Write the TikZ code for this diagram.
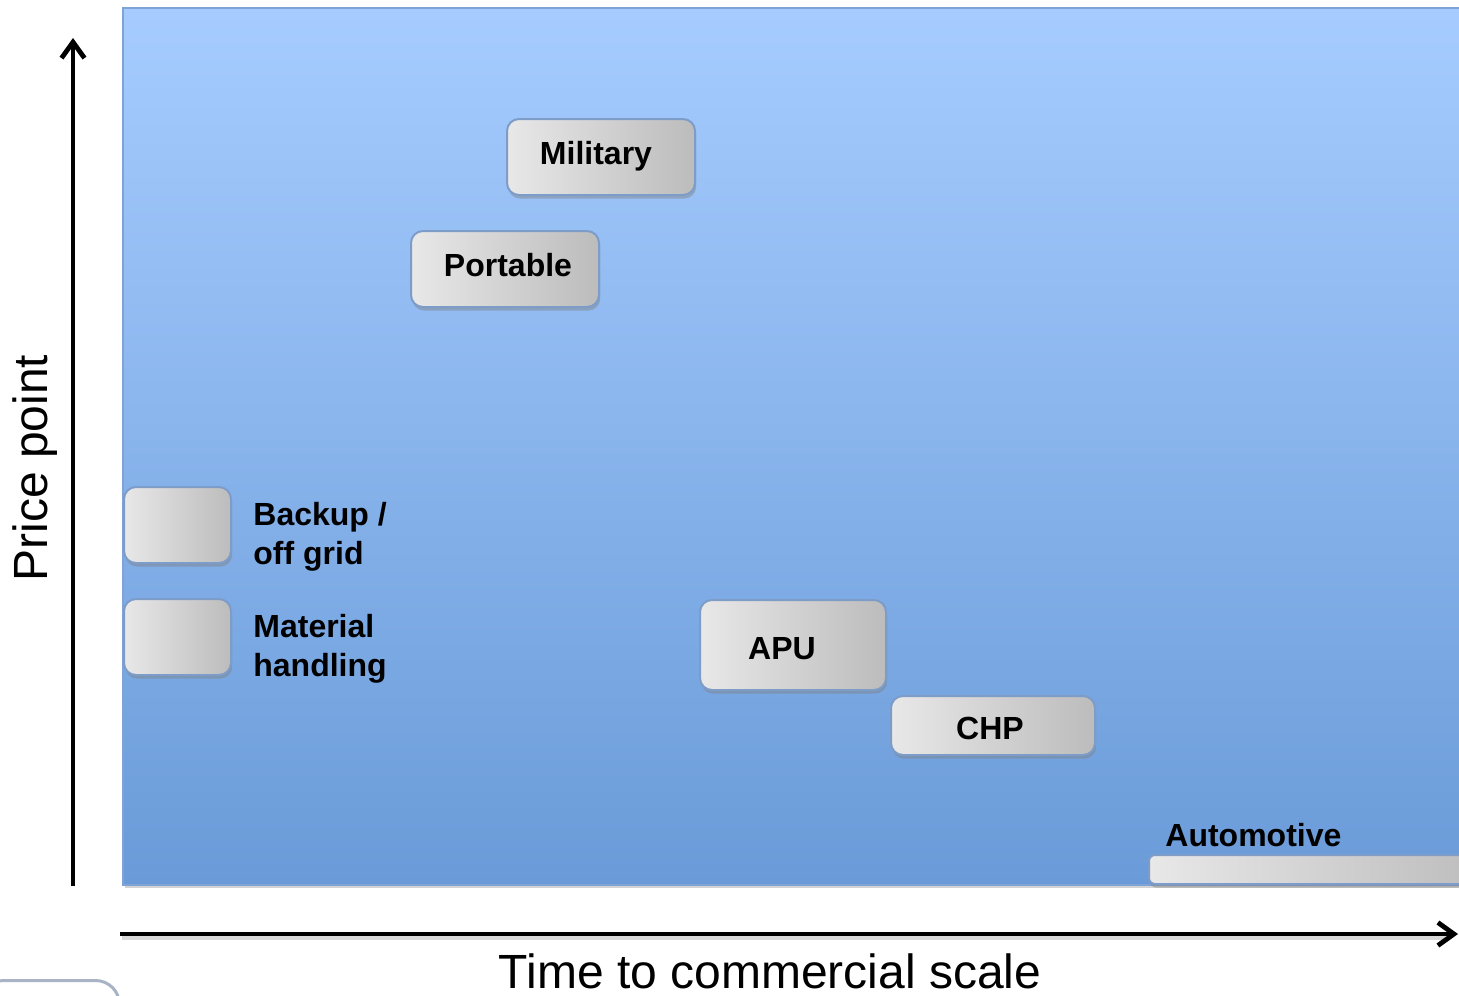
\documentclass[tikz,border=0pt]{standalone}
\usepackage{fontspec}
\setmainfont{Liberation Sans}
\usetikzlibrary{shadows,arrows.meta}
\definecolor{skytop}{HTML}{A6CCFF}
\definecolor{skybot}{HTML}{6A9BD8}
\definecolor{skyedge}{HTML}{7FA3D6}
\definecolor{boxedge}{HTML}{7E9CC8}
\definecolor{boxlight}{HTML}{E8E8E8}
\definecolor{boxdark}{HTML}{BCBCBC}
\definecolor{stubedge}{HTML}{A8B4C6}
\tikzset{
  panel/.style={draw=skyedge, line width=1pt, top color=skytop, bottom color=skybot,
    drop shadow={shadow xshift=0.8pt, shadow yshift=-1.5pt, opacity=0.35}},
  segment/.style={draw=boxedge, line width=1pt, rounded corners=6pt,
    left color=boxlight, right color=boxdark, inner sep=0pt,
    drop shadow={shadow xshift=0.6pt, shadow yshift=-1.8pt, opacity=0.45}},
  boxtext/.style={inner sep=0pt, font=\fontsize{16}{19.5}\selectfont\bfseries},
  sidelabel/.style={anchor=west, align=left, inner sep=0pt,
    font=\fontsize{16}{19.5}\selectfont\bfseries},
  axisline/.style={line width=2.2pt, -{Straight Barb[length=8pt,width=11.5pt,line width=2.4pt]}},
  axisshade/.style={line width=2.2pt, black!25, opacity=0.6},
  axistitle/.style={font=\fontsize{24}{28}\selectfont, inner sep=0pt}
}
\begin{document}
\begin{tikzpicture}[x=0.5pt,y=-0.5pt]
\useasboundingbox (0,0) rectangle (1459,995);

% chart area
\node[panel, minimum width=680pt, minimum height=438.5pt, inner sep=0pt, anchor=north west]
  (area) at (122,7) {};

% market segments
\node[segment, minimum width=94pt, minimum height=38pt] (mil) at (601,157) {};
\node[segment, minimum width=94pt, minimum height=38pt] (port) at (505,269) {};
\node[segment, minimum width=53.5pt, minimum height=38pt] (backup) at (177.5,525) {};
\node[segment, minimum width=53.5pt, minimum height=38pt] (mat) at (177.5,637) {};
\node[segment, minimum width=93pt, minimum height=45pt] (apu) at (793,645) {};
\node[segment, minimum width=102pt, minimum height=29.5pt] (chp) at (993,725.5) {};
\node[segment, rounded corners=3pt, minimum width=170pt, minimum height=14.5pt, anchor=west]
  (auto) at (1148,869.5) {};

% segment names
\node[boxtext] (miltxt) at (596,156) {Military};
\node[boxtext] (porttxt) at (508,265) {Portable};
\node[boxtext] (aputxt) at (782,649) {APU};
\node[boxtext] (chptxt) at (990,728.5) {CHP};

% labels beside the boxes
\node[sidelabel] (backuplbl) at (253,537) {Backup /\\off grid};
\node[sidelabel] (matlbl) at (253,649) {Material\\handling};
\node[sidelabel] (autolbl) at (1165,835) {Automotive};

% axes
\coordinate (yfoot) at (73,886);
\coordinate (ytip) at (73,38);
\coordinate (xfoot) at (120,934);
\coordinate (xtip) at (1458,934);
\draw[axisshade] ([xshift=1pt,yshift=-2pt]xfoot) -- ([xshift=-6pt,yshift=-2pt]xtip);
\draw[axisline] (yfoot) -- (ytip);
\draw[axisline] (xfoot) -- (xtip);

\node[axistitle, rotate=90] (ytitle) at (35,468) {Price point};
\node[axistitle] (xtitle) at (770,971) {Time to commercial scale};

% partial panel at the lower left
\node[draw=stubedge, line width=1.5pt, fill=white, rounded corners=12pt,
  minimum width=70pt, minimum height=30pt, anchor=north west, inner sep=0pt]
  (stub) at (-22,979) {};
\end{tikzpicture}
\end{document}
